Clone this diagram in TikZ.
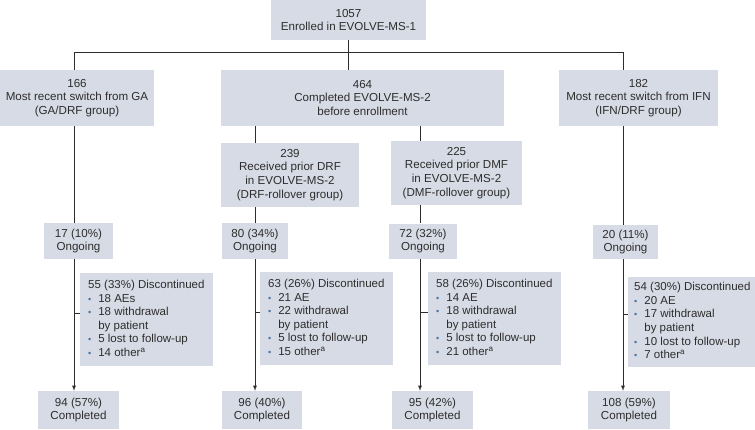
\documentclass[tikz,border=0pt]{standalone}
\usepackage{fontspec}
\setmainfont{Liberation Sans}
\usepackage{tikz}
\definecolor{boxfill}{RGB}{215,219,229}
\definecolor{bulletblue}{RGB}{70,115,165}
\definecolor{inkgray}{RGB}{45,45,45}
\newcommand{\blt}{{\color{bulletblue}\small\textbullet}}

\begin{document}
\begin{tikzpicture}[x=1pt,y=-1pt,>=latex,
    box/.style={fill=boxfill,inner sep=0pt,align=center,text=inkgray,
                font=\fontsize{11.6}{13.8}\selectfont},
    listbox/.style={box,align=left,font=\fontsize{11.5}{13.6}\selectfont},
    link/.style={draw=inkgray,line width=0.8pt}]
    \useasboundingbox (0,0) rectangle (755,429);

    % columns of the flow
    \coordinate (colA) at (74,0);
    \coordinate (colB) at (255,0);
    \coordinate (colC) at (420,0);
    \coordinate (colD) at (623,0);
    \coordinate (split) at (0,52);

    % enrolment and groups
    \node[box,minimum width=155pt,minimum height=40pt] (enrol) at (348.5,20) {1057\\Enrolled in EVOLVE-MS-1};
    \node[box,minimum width=154pt,minimum height=56pt] (ga) at (77,98) {166\\Most recent switch from GA\\(GA/DRF group)};
    \node[box,minimum width=283pt,minimum height=56pt] (mid) at (362.5,98) {464\\Completed EVOLVE-MS-2\\before enrollment};
    \node[box,minimum width=159pt,minimum height=56pt] (ifn) at (638.5,98) {182\\Most recent switch from IFN\\(IFN/DRF group)};
    \node[box,minimum width=138pt,minimum height=64pt] (drf) at (290,175) {239\\Received prior DRF\\in EVOLVE-MS-2\\(DRF-rollover group)};
    \node[box,minimum width=131pt,minimum height=64pt] (dmf) at (456.5,173) {225\\Received prior DMF\\in EVOLVE-MS-2\\(DMF-rollover group)};

    % ongoing
    \node[box,minimum width=69pt,minimum height=36pt] (onga) at (78.5,241) {17 (10\%)\\Ongoing};
    \node[box,minimum width=66pt,minimum height=36pt] (ondrf) at (255,241) {80 (34\%)\\Ongoing};
    \node[box,minimum width=68pt,minimum height=35pt] (ondmf) at (423,241) {72 (32\%)\\Ongoing};
    \node[box,minimum width=65pt,minimum height=34pt] (onifn) at (625.5,242) {20 (11\%)\\Ongoing};

    % discontinued
    \node[listbox,minimum width=129pt,minimum height=93pt,anchor=north west,inner xsep=8pt,inner ysep=4pt] (disga) at (80,273) {%
        \begin{tabular}{@{}l@{\hspace{7pt}}l@{}}
        \multicolumn{2}{@{}l@{}}{55 (33\%) Discontinued}\\
        \blt & 18 AEs\\
        \blt & 18 withdrawal\\
             & by patient\\
        \blt & 5 lost to follow-up\\
        \blt & 14 other\textsuperscript{a}
        \end{tabular}};
    \node[listbox,minimum width=131pt,minimum height=93pt,anchor=north west,inner xsep=8pt,inner ysep=4pt] (disdrf) at (260,272) {%
        \begin{tabular}{@{}l@{\hspace{7pt}}l@{}}
        \multicolumn{2}{@{}l@{}}{63 (26\%) Discontinued}\\
        \blt & 21 AE\\
        \blt & 22 withdrawal\\
             & by patient\\
        \blt & 5 lost to follow-up\\
        \blt & 15 other\textsuperscript{a}
        \end{tabular}};
    \node[listbox,minimum width=129pt,minimum height=93pt,anchor=north west,inner xsep=8pt,inner ysep=4pt] (disdmf) at (428,272) {%
        \begin{tabular}{@{}l@{\hspace{7pt}}l@{}}
        \multicolumn{2}{@{}l@{}}{58 (26\%) Discontinued}\\
        \blt & 14 AE\\
        \blt & 18 withdrawal\\
             & by patient\\
        \blt & 5 lost to follow-up\\
        \blt & 21 other\textsuperscript{a}
        \end{tabular}};
    \node[listbox,minimum width=127pt,minimum height=88pt,anchor=north west,inner xsep=6pt,inner ysep=4pt] (disifn) at (628,277) {%
        \begin{tabular}{@{}l@{\hspace{7pt}}l@{}}
        \multicolumn{2}{@{}l@{}}{54 (30\%) Discontinued}\\
        \blt & 20 AE\\
        \blt & 17 withdrawal\\
             & by patient\\
        \blt & 10 lost to follow-up\\
        \blt & 7 other\textsuperscript{a}
        \end{tabular}};

    % completed
    \node[box,minimum width=81pt,minimum height=38pt] (coga) at (78.5,410) {94 (57\%)\\Completed};
    \node[box,minimum width=80pt,minimum height=38pt] (codrf) at (262,410) {96 (40\%)\\Completed};
    \node[box,minimum width=81pt,minimum height=38pt] (codmf) at (432.5,410) {95 (42\%)\\Completed};
    \node[box,minimum width=82pt,minimum height=38pt] (coifn) at (629,410) {108 (59\%)\\Completed};

    % connectors
    \draw[link] (enrol.south) -- (enrol.south |- mid.north);
    \draw[link] (colA |- ga.north) -- (colA |- split) -- (colD |- split) -- (colD |- ifn.north);
    \draw[link] (colB |- mid.south) -- (colB |- drf.north);
    \draw[link] (colC |- mid.south) -- (colC |- dmf.north);

    \draw[link] (colA |- ga.south) -- (colA |- onga.north);
    \draw[link] (colB |- drf.south) -- (colB |- ondrf.north);
    \draw[link] (colC |- dmf.south) -- (colC |- ondmf.north);
    \draw[link] (colD |- ifn.south) -- (colD |- onifn.north);

    \draw[link,->] (colA |- onga.south) -- (colA |- coga.north);
    \draw[link,->] (colB |- ondrf.south) -- (colB |- codrf.north);
    \draw[link,->] (colC |- ondmf.south) -- (colC |- codmf.north);
    \draw[link,->] (colD |- onifn.south) -- (colD |- coifn.north);

    \draw[link] (colA |- disga.west) ++(0,-6.5) -- ([yshift=6.5pt]disga.west);
    \draw[link] (colB |- disdrf.west) ++(0,-6) -- ([yshift=6pt]disdrf.west);
    \draw[link] (colC |- disdmf.west) ++(0,-6) -- ([yshift=6pt]disdmf.west);
    \draw[link] (colD |- disifn.west) ++(0,-8) -- ([yshift=8pt]disifn.west);
\end{tikzpicture}
\end{document}
